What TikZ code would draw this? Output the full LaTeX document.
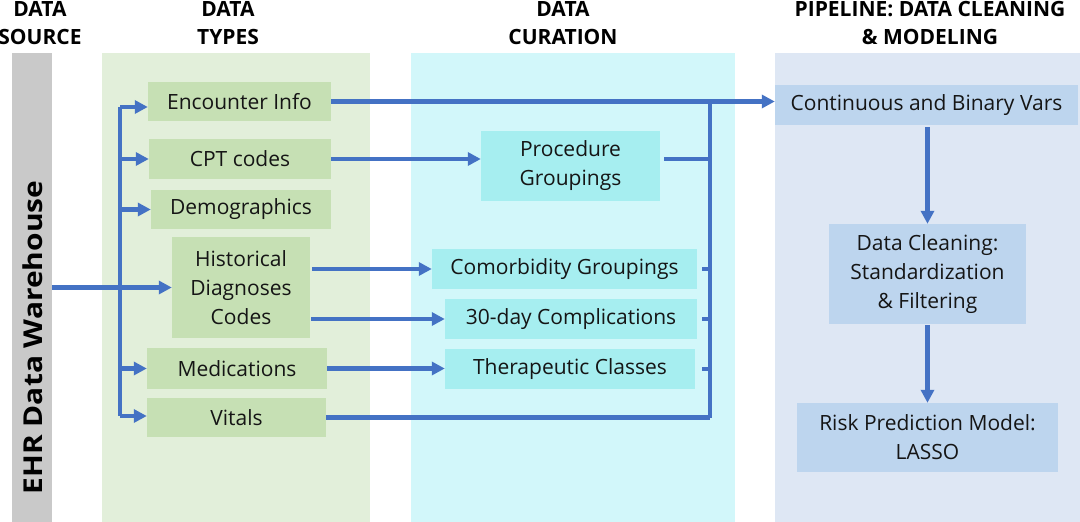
\documentclass[tikz,border=0pt]{standalone}
\usepackage{fontspec}
\setmainfont{Open Sans}
\usetikzlibrary{arrows.meta}
\definecolor{graybar}{HTML}{C9C9C9}
\definecolor{greenpanel}{HTML}{E2EFDA}
\definecolor{greenbox}{HTML}{C6E0B4}
\definecolor{cyanpanel}{HTML}{D2F7FA}
\definecolor{cyanbox}{HTML}{A6EEF0}
\definecolor{bluepanel}{HTML}{DEE7F4}
\definecolor{bluebox}{HTML}{BDD5EE}
\definecolor{arrowblue}{HTML}{4472C4}
\definecolor{ink}{HTML}{151515}
\begin{document}
\begin{tikzpicture}[x=1pt,y=-1pt,
  box/.style={rectangle, inner sep=0pt, font=\fontsize{21}{29}\selectfont, align=center, text=ink},
  gbox/.style={box, fill=greenbox},
  cbox/.style={box, fill=cyanbox},
  bbox/.style={box, fill=bluebox},
  panel/.style={rectangle, inner sep=0pt},
  hdr/.style={font=\fontsize{21}{28}\selectfont\bfseries, align=center, anchor=base, text=black},
  conn/.style={draw=arrowblue, line width=4.3pt},
  arr/.style={conn, -{Triangle[length=13pt,width=13pt]}},
]
\useasboundingbox (0,0) rectangle (1080,522);
\fill[white] (0,0) rectangle (1080,522);
% panels
\node[panel, fill=graybar, minimum width=40pt, minimum height=469pt] (ehr) at (32,287.5) {};
\node[panel, fill=greenpanel, minimum width=268pt, minimum height=469pt] (pgreen) at (236,287.5) {};
\node[panel, fill=cyanpanel, minimum width=324pt, minimum height=469pt] (pcyan) at (573,287.5) {};
\node[panel, fill=bluepanel, minimum width=305pt, minimum height=469pt] (pblue) at (927.5,287.5) {};
\node[rotate=90, font=\fontsize{26}{30}\selectfont\bfseries, text=black] (ehrtext) at (33,337.5) {\scalebox{1.15}[1]{EHR Data Warehouse}};
% headers (anchor base = last line baseline)
\node[hdr] (h1) at (40,44) {DATA\\SOURCE};
\node[hdr] (h2) at (228,44) {DATA\\TYPES};
\node[hdr] (h3) at (563,44) {DATA\\CURATION};
\node[hdr] (h4) at (930,44) {PIPELINE: DATA CLEANING\\\& MODELING};
% data types
\node[gbox, minimum width=183pt, minimum height=39pt] (enc) at (239.5,101.5) {Encounter Info};
\node[gbox, minimum width=182pt, minimum height=40pt] (cpt) at (240,159) {CPT codes};
\node[gbox, minimum width=180pt, minimum height=39pt] (demo) at (241,209.5) {Demographics};
\node[gbox, minimum width=138pt, minimum height=101pt] (hist) at (241,287.5) {Historical\\Diagnoses\\Codes};
\node[gbox, minimum width=180pt, minimum height=41pt] (med) at (237,368.5) {Medications};
\node[gbox, minimum width=179pt, minimum height=39pt] (vit) at (236.5,417.5) {Vitals};
% curation
\node[cbox, minimum width=179pt, minimum height=70pt] (proc) at (570.5,166) {Procedure\\Groupings};
\node[cbox, minimum width=265pt, minimum height=40pt] (como) at (564.5,269) {Comorbidity Groupings};
\node[cbox, minimum width=252pt, minimum height=40pt] (d30) at (571,319) {30-day Complications};
\node[cbox, minimum width=250pt, minimum height=40pt] (ther) at (570,369) {Therapeutic Classes};
% pipeline
\node[bbox, minimum width=303pt, minimum height=40pt] (cont) at (926.5,105) {Continuous and Binary Vars};
\node[bbox, minimum width=197pt, minimum height=100pt] (dc) at (927.5,274) {Data Cleaning:\\Standardization\\\& Filtering};
\node[bbox, minimum width=261pt, minimum height=69pt] (risk) at (927.5,437.5) {Risk Prediction Model:\\LASSO};
% input bus
\coordinate (busT) at (120,107);
\coordinate (busB) at (120,416);
\draw[conn] (busT) -- (busB);
\draw[arr] (busT) -- (busT -| enc.west);
\draw[arr] (busT |- cpt.west) -- (cpt.west);
\draw[arr] (busT |- demo.west) -- (demo.west);
\draw[arr] (busT |- med.west) -- (med.west);
\draw[arr] (busB) -- (busB -| vit.west);
\draw[arr] (ehr.east |- hist.west) -- (hist.west);
% types to curation
\draw[arr] (cpt.east) -- (cpt.east -| proc.west);
\draw[arr] (hist.east |- como.west) ++(2,0) -- (como.west);
\draw[arr] (hist.east |- d30.west) ++(1,0) -- (d30.west);
\draw[arr] (med.east) -- (med.east -| ther.west);
% collector bus
\coordinate (colT) at (710,101.5);
\coordinate (colB) at (710,417.5);
\draw[conn] (colT) -- (colB);
\draw[arr] (enc.east) -- (enc.east -| cont.west);
\draw[conn] (vit.east) -- (colB);
\draw[conn] (proc.east |- cpt.east) ++(4,0) -- (colT |- cpt.east);
\draw[conn] (como.east) ++(5,0) -- (colT |- como.east);
\draw[conn] (d30.east) ++(5,0) -- (colT |- d30.east);
\draw[conn] (ther.east) ++(7,0) -- (colT |- ther.east);
% pipeline arrows
\draw[arr] (cont.south -| dc.north) ++(0,2) -- (dc.north);
\draw[arr] (dc.south) ++(0,1) -- (risk.north);
\end{tikzpicture}
\end{document}
